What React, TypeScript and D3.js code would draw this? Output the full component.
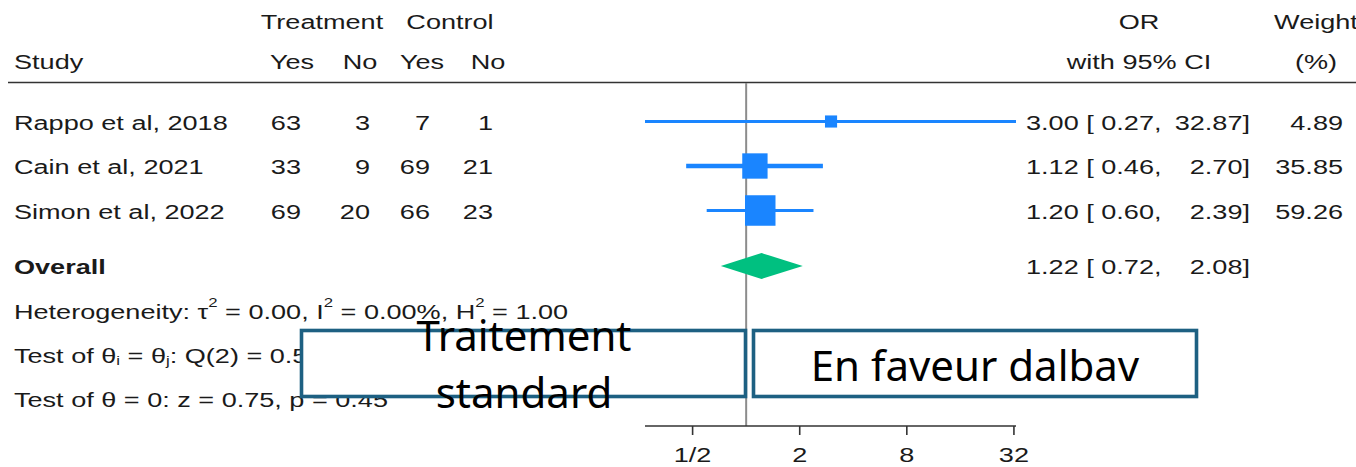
import React from 'react';
import * as d3 from 'd3';

// study rows
const studies = ['Rappo et al, 2018', 'Cain et al, 2021', 'Simon et al, 2022'];
const trtYes = [63, 33, 69];
const trtNo = [3, 9, 20];
const ctlYes = [7, 69, 66];
const ctlNo = [1, 21, 23];
const oddsRatio = [3.0, 1.12, 1.2];
const ciLow = [0.27, 0.46, 0.6];
const ciHigh = [32.87, 2.7, 2.39];
const weights = [4.89, 35.85, 59.26];

// pooled estimate
const overallOR = 1.22;
const overallLow = 0.72;
const overallHigh = 2.08;

const tickValues = [0.5, 2, 8, 32];
const tickLabels = ['1/2', '2', '8', '32'];

const W = 1356;
const H = 467;
const SX = 1.29; // the stata text is stretched horizontally
const FS = 21;
const ink = '#1a1a1a';
const blue = '#1a85ff';
const green = '#00c080';
const boxColor = '#1d6082';
const ciStroke = [3, 4.5, 3];

function ST({ x, y, anchor = 'start', bold = false, children }: any) {
  return (
    <text
      transform={`translate(${x},${y}) scale(${SX},1)`}
      textAnchor={anchor}
      dominantBaseline="central"
      fontFamily="'Liberation Sans', Arial, sans-serif"
      fontSize={FS}
      fontWeight={bold ? 'bold' : 'normal'}
      fill={ink}
      xmlSpace="preserve"
    >
      {children}
    </text>
  );
}

export default function App() {
  const x = d3.scaleLog().base(2).domain([0.27, 32.87]).range([645, 1016]);
  const y = d3.scalePoint().domain(studies).range([121.5, 210.5]);
  const side = d3.scalePow().exponent(0.37).domain([0, 59.26]).range([0, 30.5]);
  const f2 = d3.format('.2f');

  const yOverall = 266;
  const axisY = 426;
  const diamond = d3.line()([
    [x(overallLow), yOverall],
    [x(overallOR), yOverall - 13],
    [x(overallHigh), yOverall],
    [x(overallOR), yOverall + 13],
  ]) + 'Z';

  return (
    <div style={{ position: 'absolute', left: 0, top: 0 }}>
      <svg width={W} height={H} style={{ display: 'block', background: '#fff' }}>
        {/* headers */}
        <ST x={322} y={22} anchor="middle">Treatment</ST>
        <ST x={450} y={22} anchor="middle">Control</ST>
        <ST x={14} y={62}>Study</ST>
        <ST x={292} y={62} anchor="middle">Yes</ST>
        <ST x={360} y={62} anchor="middle">No</ST>
        <ST x={422} y={62} anchor="middle">Yes</ST>
        <ST x={488} y={62} anchor="middle">No</ST>
        <ST x={1139} y={22} anchor="middle">OR</ST>
        <ST x={1139} y={62} anchor="middle">with 95% CI</ST>
        <ST x={1316} y={22} anchor="middle">Weight</ST>
        <ST x={1316} y={62} anchor="middle">(%)</ST>
        <line x1={8} x2={W} y1={82.5} y2={82.5} stroke="#333" strokeWidth={1.6} />

        {/* null line */}
        <line x1={x(1)} x2={x(1)} y1={83} y2={axisY} stroke="#8c8c8c" strokeWidth={2} />

        {/* study rows */}
        {studies.map((s, i) => {
          const yy = y(s)!;
          const sd = side(weights[i]);
          return (
            <g key={s}>
              <ST x={14} y={yy + 1}>{s}</ST>
              <ST x={301} y={yy + 1} anchor="end">{trtYes[i]}</ST>
              <ST x={370} y={yy + 1} anchor="end">{trtNo[i]}</ST>
              <ST x={430} y={yy + 1} anchor="end">{ctlYes[i]}</ST>
              <ST x={493} y={yy + 1} anchor="end">{ctlNo[i]}</ST>
              <line x1={x(ciLow[i])} x2={x(ciHigh[i])} y1={yy} y2={yy} stroke={blue} strokeWidth={ciStroke[i]} />
              <rect x={x(oddsRatio[i]) - sd / 2} y={yy - sd / 2} width={sd} height={sd} fill={blue} />
              <ST x={1026} y={yy + 1}>{`${f2(oddsRatio[i])} [ ${f2(ciLow[i])},`}</ST>
              <ST x={1250} y={yy + 1} anchor="end">{`${f2(ciHigh[i])}]`}</ST>
              <ST x={1343} y={yy + 1} anchor="end">{f2(weights[i])}</ST>
            </g>
          );
        })}

        {/* overall */}
        <ST x={14} y={yOverall + 1} bold>Overall</ST>
        <path d={diamond} fill={green} />
        <ST x={1026} y={yOverall + 1}>{`${f2(overallOR)} [ ${f2(overallLow)},`}</ST>
        <ST x={1250} y={yOverall + 1} anchor="end">{`${f2(overallHigh)}]`}</ST>

        {/* stats */}
        <ST x={14} y={311}>
          <tspan>Heterogeneity: τ</tspan>
          <tspan dy={-9} fontSize={13}>2</tspan>
          <tspan dy={9}> = 0.00, I</tspan>
          <tspan dy={-9} fontSize={13}>2</tspan>
          <tspan dy={9}> = 0.00%, H</tspan>
          <tspan dy={-9} fontSize={13}>2</tspan>
          <tspan dy={9}> = 1.00</tspan>
        </ST>
        <ST x={14} y={355}>
          <tspan>Test of θ</tspan>
          <tspan dy={5} fontSize={13}>i</tspan>
          <tspan dy={-5}> = θ</tspan>
          <tspan dy={5} fontSize={13}>j</tspan>
          <tspan dy={-5}>: Q(2) = 0.55, p = 0.76</tspan>
        </ST>
        <ST x={14} y={400}>Test of θ = 0: z = 0.75, p = 0.45</ST>

        {/* axis */}
        <line x1={x.range()[0]} x2={x.range()[1]} y1={axisY} y2={axisY} stroke="#333" strokeWidth={1.6} />
        {tickValues.map((t, i) => (
          <g key={t}>
            <line x1={x(t)} x2={x(t)} y1={axisY} y2={axisY + 9} stroke="#333" strokeWidth={1.6} />
            <ST x={x(t)} y={455} anchor="middle">{tickLabels[i]}</ST>
          </g>
        ))}

        {/* annotation boxes */}
        <rect x={301.5} y={330.5} width={444} height={66} fill="#fff" stroke={boxColor} strokeWidth={3.6} />
        <rect x={753.5} y={330.5} width={443} height={66} fill="#fff" stroke={boxColor} strokeWidth={3.6} />
        <g fontFamily="'Noto Sans', sans-serif" fontSize={42} fill="#000" textAnchor="middle">
          <text x={524} y={351}>Traitement</text>
          <text x={524} y={408}>standard</text>
          <text x={975} y={381}>En faveur dalbav</text>
        </g>
      </svg>
    </div>
  );
}
